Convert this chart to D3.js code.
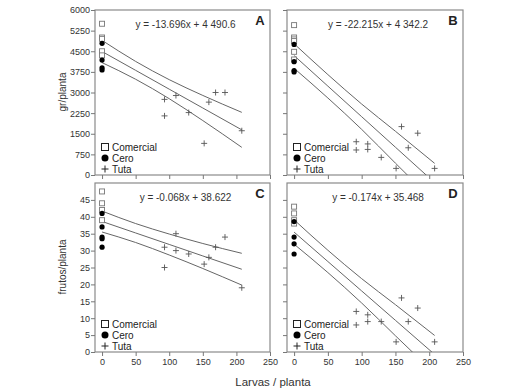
<html>
  <head>
    <style>
      body {
        margin: 0;
        background: white;
        font-family: "Liberation Sans", Arial, sans-serif;
      }
      .tick text {
        fill: #333;
        font-size: 9px;
      }
      .tick line, .domain {
        stroke: #777;
      }
    </style>
    <script src="https://cdn.jsdelivr.net/npm/d3@7"></script>
  </head>
  <body>
    <svg id="chart"></svg>
  </body>
  <script>
    // shared axis ticks
    let xTicks = [0, 50, 100, 150, 200, 250];
    let grTicks = [0, 750, 1500, 2250, 3000, 3750, 4500, 5250, 6000];
    let frutosTicks = [0, 5, 10, 15, 20, 25, 30, 35, 40, 45];
    let legendLabels = ["Comercial", "Cero", "Tuta"];

    // x positions where the fit and its bands were read
    let bandX = [0, 50, 100, 150, 208];

    // panel A : gr/planta
    let aComercial = [5500, 5000, 4950, 4500, 4350];
    let aCero = [4790, 4180, 3900, 3820];
    let aTutaX = [93, 93, 110, 129, 152, 159, 169, 183, 208];
    let aTutaY = [2750, 2150, 2890, 2270, 1150, 2650, 3000, 3000, 1610];
    let aFit = [4490.6, 3805.8, 3121.0, 2436.2, 1641.8];
    let aUpper = [4896, 4130, 3467, 2893, 2278];
    let aLower = [4086, 3482, 2775, 1979, 1006];

    // panel B : gr/planta
    let bComercial = [5450, 5000, 4930, 4870, 4480, 4200];
    let bCero = [4750, 4120, 3800, 3750];
    let bTutaX = [92, 92, 109, 109, 129, 151, 159, 169, 183, 208];
    let bTutaY = [1210, 910, 1130, 930, 640, 240, 1760, 990, 1520, 240];
    let bFit = [4342.2, 3231.5, 2120.7, 1010.0, -278.5];
    let bUpper = [4772, 3651, 2581, 1590, 424];
    let bLower = [3880, 2800, 1660, 430, -982];

    // panel C : frutos/planta
    let cComercial = [47.5, 44, 42, 39];
    let cCero = [41, 37, 34, 33.5, 31];
    let cTutaX = [93, 93, 110, 110, 129, 152, 159, 169, 183, 208];
    let cTutaY = [31, 25, 35, 30, 29, 26, 28, 31, 34, 19];
    let cFit = [38.62, 35.22, 31.82, 28.42, 24.48];
    let cUpper = [41.7, 38.0, 34.9, 32.1, 29.2];
    let cLower = [35.5, 32.4, 28.7, 24.7, 19.8];

    // panel D : frutos/planta
    let dComercial = [43, 41, 39, 38];
    let dCero = [38.6, 34, 32, 29];
    let dTutaX = [92, 92, 109, 109, 129, 151, 159, 169, 183, 208];
    let dTutaY = [12, 8, 11, 9, 9, 3, 16, 9, 13, 3];
    let dFit = [35.47, 26.77, 18.07, 9.37, -0.72];
    let dUpper = [39.1, 30.1, 21.7, 14.0, 4.9];
    let dLower = [31.9, 23.5, 14.5, 4.8, -6.3];

    let width = 528;
    let height = 388;

    let svg = d3.select("#chart").attr("width", width).attr("height", height);

    let panels = [
      {
        id: "A", left: 95, top: 10, w: 175, h: 165, yMax: 6000, yTicks: grTicks,
        yLabels: true, xLabels: false, eq: "y = -13.696x + 4 490.6",
        comercial: aComercial, cero: aCero, tutaX: aTutaX, tutaY: aTutaY,
        fit: aFit, upper: aUpper, lower: aLower,
      },
      {
        id: "B", left: 287, top: 10, w: 176, h: 165, yMax: 6000, yTicks: grTicks,
        yLabels: false, xLabels: false, eq: "y = -22.215x + 4 342.2",
        comercial: bComercial, cero: bCero, tutaX: bTutaX, tutaY: bTutaY,
        fit: bFit, upper: bUpper, lower: bLower,
      },
      {
        id: "C", left: 95, top: 183, w: 175, h: 169, yMax: 50, yTicks: frutosTicks,
        yLabels: true, xLabels: true, eq: "y = -0.068x + 38.622",
        comercial: cComercial, cero: cCero, tutaX: cTutaX, tutaY: cTutaY,
        fit: cFit, upper: cUpper, lower: cLower,
      },
      {
        id: "D", left: 287, top: 183, w: 176, h: 169, yMax: 50, yTicks: frutosTicks,
        yLabels: false, xLabels: true, eq: "y = -0.174x + 35.468",
        comercial: dComercial, cero: dCero, tutaX: dTutaX, tutaY: dTutaY,
        fit: dFit, upper: dUpper, lower: dLower,
      },
    ];

    function drawPanel(p) {
      let g = svg.append("g").attr("transform", `translate(${p.left},${p.top})`);

      let xScale = d3.scaleLinear().domain([-10.5, 250]).range([0, p.w]);
      let yScale = d3.scaleLinear().domain([0, p.yMax]).range([p.h, 0]);

      // clip for the fit lines that run below zero
      let clipId = "clip" + p.id;
      g.append("clipPath")
        .attr("id", clipId)
        .append("rect")
        .attr("width", p.w)
        .attr("height", p.h);

      // frame
      g.append("rect")
        .attr("width", p.w)
        .attr("height", p.h)
        .attr("fill", "none")
        .attr("stroke", "#8a8a8a")
        .attr("stroke-width", 1.2);

      let axisY = d3
        .axisLeft(yScale)
        .tickValues(p.yTicks)
        .tickSize(4)
        .tickPadding(1)
        .tickFormat(p.yLabels ? d3.format("d") : "");
      g.append("g").call(axisY).call((a) => a.select(".domain").remove());

      let axisX = d3
        .axisBottom(xScale)
        .tickValues(xTicks)
        .tickSize(4)
        .tickPadding(3)
        .tickFormat(p.xLabels ? d3.format("d") : "");
      g.append("g")
        .attr("transform", `translate(0,${p.h})`)
        .call(axisX)
        .call((a) => a.select(".domain").remove());

      // fit line and confidence bands
      let line = d3
        .line()
        .x((d, k) => xScale(bandX[k]))
        .y((d) => yScale(d))
        .curve(d3.curveMonotoneX);

      let lines = g.append("g").attr("clip-path", `url(#${clipId})`);
      [p.upper, p.fit, p.lower].forEach((series) => {
        lines
          .append("path")
          .attr("d", line(series))
          .attr("fill", "none")
          .attr("stroke", "#666")
          .attr("stroke-width", 1);
      });

      // Comercial squares
      g.selectAll(".com")
        .data(p.comercial)
        .enter()
        .append("rect")
        .attr("x", xScale(0) - 2.5)
        .attr("y", (d) => yScale(d) - 2.5)
        .attr("width", 5)
        .attr("height", 5)
        .attr("fill", "white")
        .attr("stroke", "#777")
        .attr("stroke-width", 0.9);

      // Cero dots
      g.selectAll(".cero")
        .data(p.cero)
        .enter()
        .append("circle")
        .attr("cx", xScale(0))
        .attr("cy", (d) => yScale(d))
        .attr("r", 2.6)
        .attr("fill", "black");

      // Tuta crosses
      g.selectAll(".tuta")
        .data(p.tutaX)
        .enter()
        .append("path")
        .attr("transform", (d, k) => `translate(${xScale(d)},${yScale(p.tutaY[k])})`)
        .attr("d", "M-3,0H3M0,-3V3")
        .attr("stroke", "#555")
        .attr("stroke-width", 0.9);

      // equation
      g.append("text")
        .attr("x", p.w * 0.5 + 3)
        .attr("y", 18)
        .attr("text-anchor", "middle")
        .attr("font-size", 10)
        .attr("fill", "#333")
        .text(p.eq);

      // panel letter
      g.append("text")
        .attr("x", p.w - 10)
        .attr("y", 15)
        .attr("text-anchor", "middle")
        .attr("font-size", 13)
        .attr("font-weight", "bold")
        .attr("fill", "#222")
        .text(p.id);

      // legend
      let legend = g.append("g").attr("transform", `translate(10,${p.h - 28})`);
      legend
        .append("rect")
        .attr("x", -3.5)
        .attr("y", -3.5)
        .attr("width", 7)
        .attr("height", 7)
        .attr("fill", "white")
        .attr("stroke", "#222")
        .attr("stroke-width", 1);
      legend
        .append("circle")
        .attr("cy", 11)
        .attr("r", 3.5)
        .attr("fill", "black");
      legend
        .append("path")
        .attr("d", "M-3.5,22H3.5M0,18.5V25.5")
        .attr("stroke", "#222")
        .attr("stroke-width", 1);
      legend
        .selectAll(".lab")
        .data(legendLabels)
        .enter()
        .append("text")
        .attr("x", 7)
        .attr("y", (d, k) => k * 11 + 3.5)
        .attr("font-size", 10)
        .attr("fill", "#222")
        .text((d) => d);
    }

    panels.forEach(drawPanel);

    // axis titles
    svg
      .append("text")
      .attr("transform", "translate(66,92) rotate(-90)")
      .attr("text-anchor", "middle")
      .attr("font-size", 10)
      .attr("fill", "#333")
      .text("gr/planta");

    svg
      .append("text")
      .attr("transform", "translate(66,267) rotate(-90)")
      .attr("text-anchor", "middle")
      .attr("font-size", 10)
      .attr("fill", "#333")
      .text("frutos/planta");

    svg
      .append("text")
      .attr("x", 273)
      .attr("y", 386)
      .attr("text-anchor", "middle")
      .attr("font-size", 11.5)
      .attr("fill", "#333")
      .text("Larvas / planta");
  </script>
</html>
